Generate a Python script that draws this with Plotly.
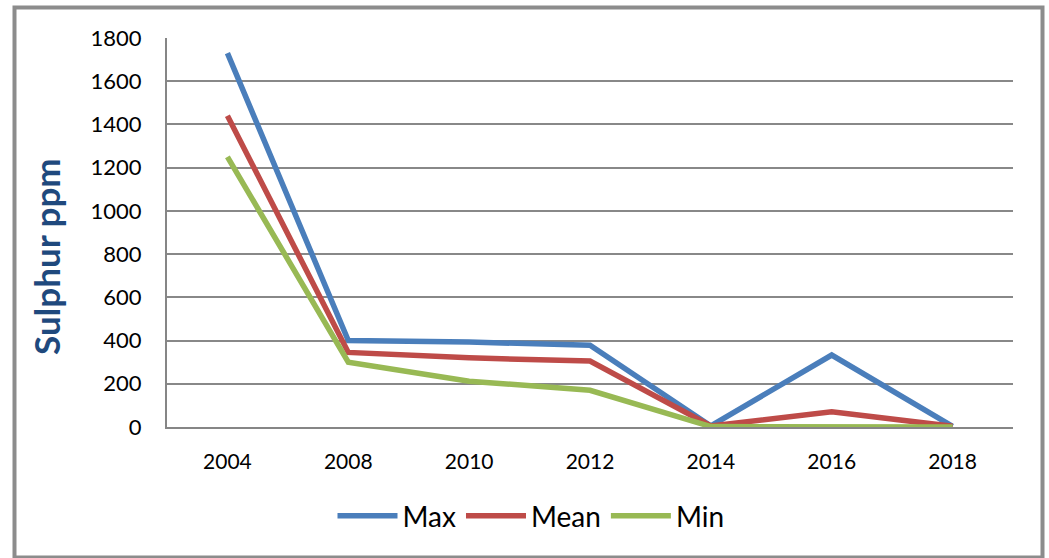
import plotly.graph_objects as go

years = ["2004", "2008", "2010", "2012", "2014", "2016", "2018"]
max_vals = [1730, 400, 393, 378, 5, 333, 3]
mean_vals = [1440, 345, 320, 305, 5, 70, 3]
min_vals = [1250, 300, 212, 170, 2, 0, 0]
y_ticks = [0, 200, 400, 600, 800, 1000, 1200, 1400, 1600, 1800]

series = [("Max", max_vals, "#4A7EBB"), ("Mean", mean_vals, "#BE4B48"), ("Min", min_vals, "#98B954")]

fig = go.Figure()
for name, vals, col in series:
    fig.add_trace(go.Scatter(x=years, y=vals, name=name, mode="lines",
                             line=dict(color=col, width=5.5)))

W, H = 1049, 558
L, R, T, B = 167, 36, 38, 131
pw, ph = W - L - R, H - T - B

def px(x):
    return (x - L) / pw

def py(y):
    return (H - B - y) / ph

fig.update_layout(
    width=W, height=H,
    margin=dict(l=L, r=R, t=T, b=B, autoexpand=False),
    paper_bgcolor="white", plot_bgcolor="white",
    font=dict(family="Lato, Calibri, sans-serif", color="black"),
    showlegend=True,
    legend=dict(orientation="h", x=px(531), xanchor="center", y=py(516), yanchor="middle",
                font=dict(size=28), tracegroupgap=0, itemwidth=60),
    xaxis=dict(type="category", range=[-0.5, 6.5], showgrid=False, showline=True,
               linecolor="#868686", linewidth=2, ticks="", tickfont=dict(size=21),
               ticklabelstandoff=15),
    yaxis=dict(range=[0, 1800], tickvals=y_ticks, showgrid=True, gridcolor="#888888", gridwidth=1.5,
               showline=True, linecolor="#868686", linewidth=2, ticks="",
               tickfont=dict(size=22), ticklabelstandoff=19, zeroline=False),
    annotations=[dict(text="<b>Sulphur ppm</b>", xref="paper", yref="paper",
                      x=px(46), y=py(256), xanchor="center", yanchor="middle",
                      textangle=-90, showarrow=False,
                      font=dict(size=35, color="#1F497D"))],
    shapes=[dict(type="rect", xref="paper", yref="paper",
                 x0=px(14.5), x1=px(1042.5), y0=py(557.5), y1=py(7.5),
                 line=dict(color="#8C8C8C", width=4), fillcolor="rgba(0,0,0,0)", layer="below")],
)

fig.write_html("out.html", config={"displayModeBar": False},
               post_script="document.body.style.margin='0';")
